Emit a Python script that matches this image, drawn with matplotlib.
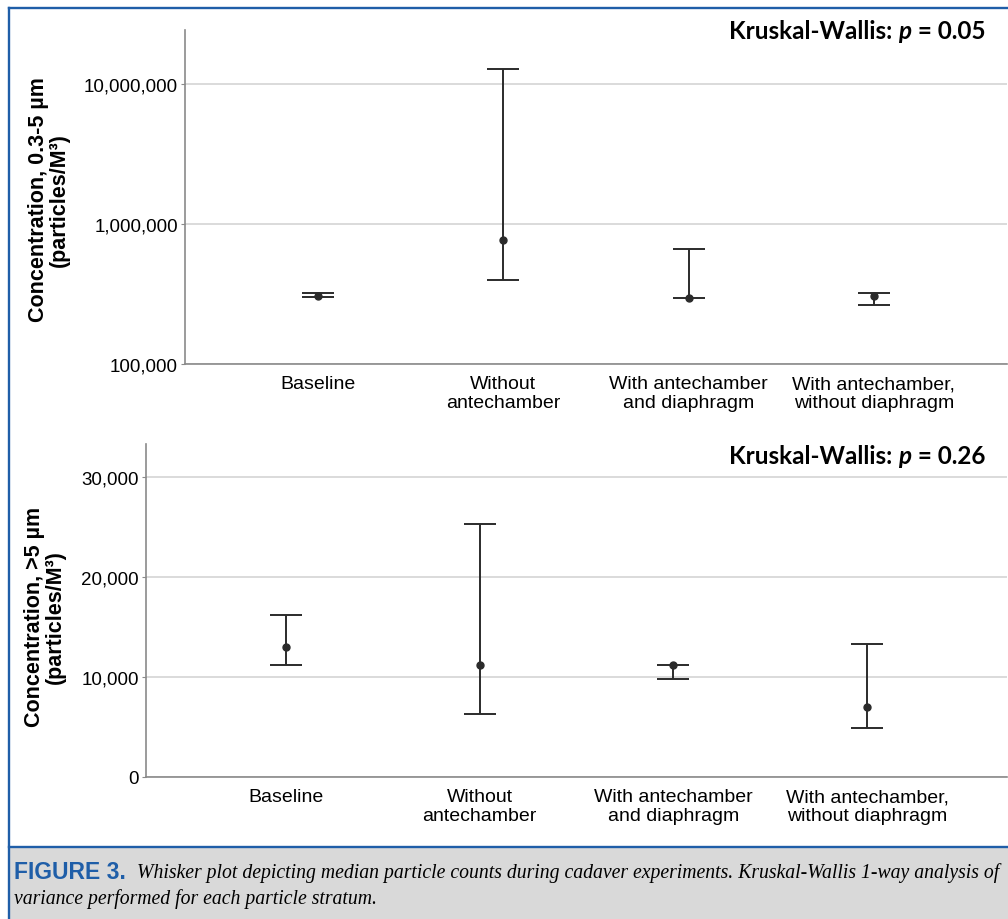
import numpy as np
import matplotlib.pyplot as plt
from matplotlib.lines import Line2D
from matplotlib.patches import Rectangle
from matplotlib.ticker import FixedLocator, NullLocator, FuncFormatter

groups = ["Baseline", "Without\nantechamber", "With antechamber\nand diaphragm",
          "With antechamber,\nwithout diaphragm"]

# 0.3-5 um particles (particles/M3)
fine_median = np.array([306000, 764000, 298000, 306000])
fine_low = np.array([299000, 400000, 298000, 265000])
fine_high = np.array([320000, 12800000, 663000, 320000])

# >5 um particles (particles/M3)
coarse_median = np.array([13000, 11250, 11250, 7000])
coarse_low = np.array([11250, 6300, 9850, 4900])
coarse_high = np.array([16200, 25350, 11250, 13350])

p_fine = "0.05"
p_coarse = "0.26"

caption_1 = ("Whisker plot depicting median particle counts during cadaver experiments. "
             "Kruskal-Wallis 1-way analysis of")
caption_2 = "variance performed for each particle stratum."

W, H = 1008, 920
blue = '#1f5ea8'
ink = '#2b2b2b'

plt.rcParams['font.family'] = ['Liberation Sans', 'DejaVu Sans']

fig = plt.figure(figsize=(W / 100, H / 100), dpi=100)


def fx(px):
    return px / W


def fy(py):
    return 1 - py / H


ax1 = fig.add_axes([fx(185), fy(365), fx(1007) - fx(185), fy(31) - fy(365)])
ax2 = fig.add_axes([fx(146), fy(778), fx(1007) - fx(146), fy(445) - fy(778)])

x = np.arange(len(groups))


def style(ax):
    for s in ['top', 'right']:
        ax.spines[s].set_visible(False)
    for s in ['left', 'bottom']:
        ax.spines[s].set_color('#8a8a8a')
        ax.spines[s].set_linewidth(1.2)
    ax.grid(axis='y', color='#d4d4d4', lw=1.2)
    ax.set_axisbelow(True)
    ax.tick_params(axis='x', length=0, pad=8, labelsize=14)
    ax.tick_params(axis='y', length=3, color='#8a8a8a', labelsize=13.5, pad=2)
    ax.set_xlim(-0.72, 3.72)
    ax.set_xticks(x)
    ax.set_xticklabels(groups, linespacing=1.15)
    ax.yaxis.set_major_formatter(FuncFormatter(lambda v, _: f'{v:,.0f}'))


def whiskers(ax, med, low, high):
    ax.errorbar(x, med, yerr=[med - low, high - med], fmt='o', color=ink,
                ms=5, elinewidth=1.4, capsize=11.5, capthick=1.4, zorder=3)


# top panel: log scale
style(ax1)
ax1.set_yscale('log')
ax1.set_ylim(1e5, 10 ** 7.386)
ax1.yaxis.set_major_locator(FixedLocator([1e5, 1e6, 1e7]))
ax1.yaxis.set_minor_locator(NullLocator())
ax1.yaxis.set_major_formatter(FuncFormatter(lambda v, _: f'{v:,.0f}'))
whiskers(ax1, fine_median, fine_low, fine_high)

# bottom panel: linear
style(ax2)
ax2.set_ylim(0, 33300)
ax2.yaxis.set_major_locator(FixedLocator([0, 10000, 20000, 30000]))
whiskers(ax2, coarse_median, coarse_low, coarse_high)

fig.text(fx(49), fy(200), "Concentration, 0.3-5 µm\n(particles/M³)", rotation=90,
         ha='center', va='center', fontsize=15.5, fontweight='bold', linespacing=0.95)
fig.text(fx(45), fy(617), "Concentration, >5 µm\n(particles/M³)", rotation=90,
         ha='center', va='center', fontsize=15.5, fontweight='bold', linespacing=0.95)


def kruskal(py, pval):
    kw = dict(fontsize=17.5, fontweight='bold', family=['Lato', 'DejaVu Sans'], va='bottom')
    t3 = fig.text(fx(985), fy(py), f" = {pval}", ha='right', **kw)
    t2 = plt.annotate("p", xy=(0, 0), xycoords=t3, ha='right', style='italic',
                      annotation_clip=False, **kw)
    plt.annotate("Kruskal-Wallis: ", xy=(0, 0), xycoords=t2, ha='right',
                 annotation_clip=False, **kw)


kruskal(43, p_fine)
kruskal(468, p_coarse)

# frame and caption box
fig.add_artist(Rectangle((fx(10), 0), 1, fy(849), transform=fig.transFigure,
                         facecolor='#d9d9d9', edgecolor='none', zorder=0))
for xs, ys in [([fx(9), fx(9)], [fy(9), 0]),
               ([fx(9), 1], [fy(9), fy(9)]),
               ([fx(9), 1], [fy(848), fy(848)])]:
    fig.add_artist(Line2D(xs, ys, color=blue, lw=1.7, transform=fig.transFigure))

fig.text(fx(14), fy(873), "FIGURE 3.", color=blue, fontweight='bold', fontsize=16.5,
         family=['Liberation Sans Narrow', 'Liberation Sans'], va='center')
c1 = fig.text(fx(137), fy(873), caption_1, style='italic', fontsize=14,
              family=['Liberation Serif'], va='center')
c2 = fig.text(fx(14), fy(899), caption_2, style='italic', fontsize=14,
              family=['Liberation Serif'], va='center')
fig.canvas.draw()
w = c1.get_window_extent().width
size = 14 * (1003 - 137) / w
c1.set_fontsize(size)
c2.set_fontsize(size)

fig.savefig('out.png', dpi=100)
